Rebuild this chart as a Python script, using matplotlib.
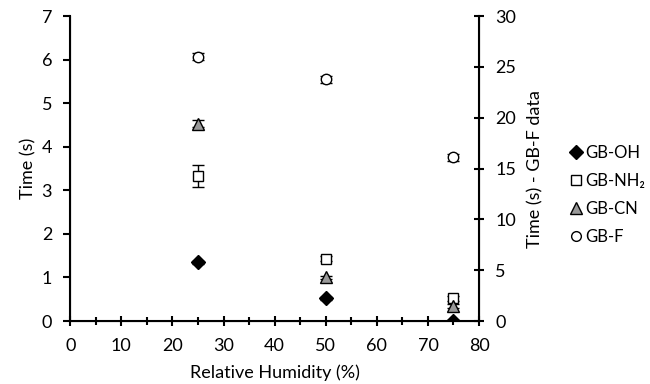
import matplotlib
matplotlib.use("Agg")
import matplotlib.pyplot as plt
from matplotlib.ticker import MultipleLocator
from matplotlib.lines import Line2D

plt.rcParams['font.family'] = ['Lato', 'DejaVu Sans']
plt.rcParams['font.size'] = 13

humidity = [25, 50, 75]

# left axis series
oh = [1.35, 0.52, 0.0]
oh_err = [0.03, 0.03, 0.02]
nh2 = [3.33, 1.43, 0.52]
nh2_err = [0.25, 0.06, 0.06]
cn = [4.53, 1.0, 0.35]
cn_err = [0.08, 0.04, 0.04]

# right axis series
gbf = [26.0, 23.8, 16.1]
gbf_err = [0.35, 0.35, 0.35]

labels = ['GB-OH', 'GB-NH₂', 'GB-CN', 'GB-F']

fig = plt.figure(figsize=(6.5, 3.84), dpi=100)
ax = fig.add_axes([0.108, 0.164, 0.629, 0.794])
ax2 = ax.twinx()

ms = 7.5
ax.errorbar(humidity, nh2, yerr=nh2_err, fmt='s', color='black', mfc='white', mec='black',
            ms=ms, mew=1, capsize=4, elinewidth=1, zorder=3)
ax.errorbar(humidity, cn, yerr=cn_err, fmt='^', color='black', mfc='#999999', mec='black',
            ms=ms + 1, mew=1, capsize=4, elinewidth=1, zorder=3)
ax.errorbar(humidity, oh, yerr=oh_err, fmt='D', color='black', mfc='black', mec='black',
            ms=ms - 0.5, mew=1, capsize=4, elinewidth=1, zorder=4)
ax2.errorbar(humidity, gbf, yerr=gbf_err, fmt='o', color='black', mfc='white', mec='black',
             ms=ms, mew=1, capsize=4, elinewidth=1, zorder=3)

ax.set_xlim(0, 80)
ax.set_ylim(0, 7)
ax2.set_ylim(0, 30)
ax.xaxis.set_major_locator(MultipleLocator(10))
ax.xaxis.set_minor_locator(MultipleLocator(5))
ax.yaxis.set_major_locator(MultipleLocator(1))
ax2.yaxis.set_major_locator(MultipleLocator(5))

ax.spines['top'].set_visible(False)
ax2.spines['top'].set_visible(False)
for s in ['left', 'bottom']:
    ax.spines[s].set_linewidth(1.5)
ax2.spines['right'].set_linewidth(1.5)

ax.tick_params(axis='x', which='both', direction='inout', length=7, width=1.5, pad=9)
ax.tick_params(axis='x', which='minor', length=6)
ax.tick_params(axis='y', direction='out', length=5, width=1.5, pad=8)
ax2.tick_params(axis='y', direction='inout', length=7, width=1.5, pad=8)

ax.set_xlabel('Relative Humidity (%)', labelpad=7)
ax.set_ylabel('Time (s)', labelpad=4)
ax2.set_ylabel('Time (s) - GB-F data', labelpad=8)

styles = [('D', 'black', 7), ('s', 'white', 7), ('^', '#999999', 8), ('o', 'white', 7)]
handles = [Line2D([], [], ls='none', marker=m, mfc=fc, mec='black', ms=s) for m, fc, s in styles]
fig.legend(handles, labels, loc='upper left', bbox_to_anchor=(0.868, 0.64), frameon=False,
           fontsize=12, handlelength=0.6, handletextpad=0.25, labelspacing=0.72, borderaxespad=0)

fig.savefig('out.png', dpi=100)
